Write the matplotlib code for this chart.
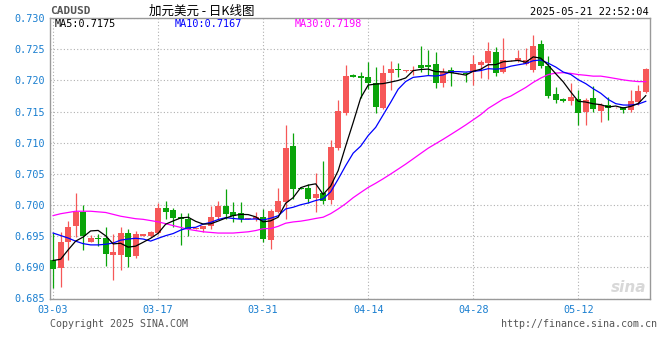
import numpy as np
import pandas as pd
import matplotlib
matplotlib.use("Agg")
import matplotlib.pyplot as plt

# ---------------- data (daily, calendar days 2025-03-03 .. 2025-05-21) ----------------
opens = [0.6912, 0.6899, 0.6941, 0.6967, 0.6988, 0.6940, 0.6947, 0.6947, 0.6919, 0.6920,
         0.6955, 0.6918, 0.6951, 0.6951, 0.6955, 0.6995, 0.6992, 0.6980, 0.6978, 0.6962,
         0.6962, 0.6967, 0.6981, 0.6999, 0.6989, 0.6987, 0.6977, 0.6977, 0.6981, 0.6944,
         0.6989, 0.7005, 0.7095, 0.7028, 0.7027, 0.7011, 0.7019, 0.7008, 0.7091, 0.7148,
         0.7209, 0.7207, 0.7206, 0.7196, 0.7155, 0.7211, 0.7218, 0.7215, 0.7215, 0.7225,
         0.7224, 0.7227, 0.7196, 0.7217, 0.7211, 0.7212, 0.7214, 0.7225, 0.7228, 0.7246,
         0.7214, 0.7232, 0.7231, 0.7227, 0.7216, 0.7259, 0.7223, 0.7178, 0.7170, 0.7167,
         0.7170, 0.7150, 0.7172, 0.7151, 0.7160, 0.7155, 0.7157, 0.7152, 0.7166, 0.7182]
highs = [0.6955, 0.6956, 0.6975, 0.7019, 0.7000, 0.6952, 0.6954, 0.6964, 0.6954, 0.6964,
         0.6962, 0.6959, 0.6954, 0.6959, 0.7004, 0.7007, 0.6995, 0.6987, 0.6987, 0.6963,
         0.6967, 0.6999, 0.7007, 0.7026, 0.7005, 0.7005, 0.6979, 0.6989, 0.6993, 0.6993,
         0.7028, 0.7129, 0.7116, 0.7029, 0.7033, 0.7051, 0.7071, 0.7104, 0.7168, 0.7225,
         0.7210, 0.7214, 0.7230, 0.7221, 0.7225, 0.7231, 0.7228, 0.7217, 0.7223, 0.7255,
         0.7249, 0.7246, 0.7220, 0.7221, 0.7212, 0.7214, 0.7241, 0.7233, 0.7262, 0.7254,
         0.7268, 0.7233, 0.7249, 0.7252, 0.7273, 0.7264, 0.7239, 0.7190, 0.7171, 0.7195,
         0.7184, 0.7171, 0.7191, 0.7164, 0.7174, 0.7157, 0.7158, 0.7184, 0.7192, 0.7220]
lows = [0.6867, 0.6868, 0.6911, 0.6948, 0.6928, 0.6940, 0.6934, 0.6902, 0.6879, 0.6895,
        0.6900, 0.6915, 0.6951, 0.6948, 0.6953, 0.6978, 0.6964, 0.6936, 0.6950, 0.6961,
        0.6957, 0.6961, 0.6977, 0.6978, 0.6972, 0.6972, 0.6977, 0.6974, 0.6940, 0.6930,
        0.6987, 0.6978, 0.7009, 0.7025, 0.7004, 0.6989, 0.7001, 0.7001, 0.7089, 0.7144,
        0.7205, 0.7171, 0.7186, 0.7148, 0.7154, 0.7185, 0.7206, 0.7214, 0.7209, 0.7214,
        0.7209, 0.7187, 0.7190, 0.7191, 0.7210, 0.7198, 0.7192, 0.7203, 0.7202, 0.7207,
        0.7211, 0.7231, 0.7230, 0.7225, 0.7214, 0.7219, 0.7171, 0.7164, 0.7166, 0.7160,
        0.7128, 0.7128, 0.7150, 0.7133, 0.7137, 0.7155, 0.7147, 0.7150, 0.7160, 0.7180]
closes = [0.6898, 0.6941, 0.6965, 0.6989, 0.6950, 0.6947, 0.6945, 0.6922, 0.6924, 0.6955,
          0.6916, 0.6953, 0.6953, 0.6956, 0.6995, 0.6989, 0.6979, 0.6977, 0.6962, 0.6962,
          0.6967, 0.6981, 0.6999, 0.6986, 0.6982, 0.6977, 0.6979, 0.6981, 0.6946, 0.6990,
          0.7006, 0.7091, 0.7026, 0.7026, 0.7010, 0.7017, 0.7006, 0.7093, 0.7150, 0.7207,
          0.7206, 0.7203, 0.7196, 0.7158, 0.7211, 0.7218, 0.7216, 0.7216, 0.7217, 0.7220,
          0.7221, 0.7196, 0.7214, 0.7211, 0.7211, 0.7210, 0.7227, 0.7230, 0.7247, 0.7212,
          0.7233, 0.7232, 0.7236, 0.7232, 0.7255, 0.7223, 0.7175, 0.7168, 0.7167, 0.7174,
          0.7148, 0.7169, 0.7154, 0.7160, 0.7155, 0.7156, 0.7153, 0.7167, 0.7183, 0.7218]

# moving-average values for the days before each window is full
ma5_head = [0.6911, 0.6913, 0.6928, 0.6942]
ma10_head = [0.6955, 0.6951, 0.6947, 0.6942, 0.6938, 0.6936, 0.6936, 0.6937, 0.6939]
ma30_head = [0.6983, 0.6986, 0.6988, 0.6990, 0.6990, 0.6990, 0.6989, 0.6988, 0.6985, 0.6982,
             0.6980, 0.6978, 0.6977, 0.6975, 0.6973, 0.6970, 0.6967, 0.6964, 0.6961, 0.6959,
             0.6957, 0.6956, 0.6955, 0.6955, 0.6955, 0.6956, 0.6957, 0.6959, 0.6962]

tick_labels = ["03-03", "03-17", "03-31", "04-14", "04-28", "05-12"]
tick_index = [0, 14, 28, 42, 56, 70]
y_ticks = [0.685, 0.690, 0.695, 0.700, 0.705, 0.710, 0.715, 0.720, 0.725, 0.730]

# ---------------- derived ----------------
c = pd.Series(closes)
def ma(n, head):
    m = c.rolling(n).mean().to_numpy()
    m[:len(head)] = head
    return m
ma5 = ma(5, ma5_head)
ma10 = ma(10, ma10_head)
ma30 = ma(30, ma30_head)

o = np.array(opens); h = np.array(highs); l = np.array(lows); cl = np.array(closes)
x = np.arange(len(o))

RED = "#f65858"
GREEN = "#0aa40a"
BLUE_TXT = "#1a7fd0"
MONO = "DejaVu Sans Mono"

fig = plt.figure(figsize=(6.6, 3.6), dpi=100)
fig.patch.set_facecolor("white")
ax = fig.add_axes([50.5 / 660, 1 - 298.5 / 360, 599 / 660, 280.5 / 360])

up = cl >= o
colors = np.where(up, RED, GREEN)
bottoms = np.minimum(o, cl)
heights = np.maximum(np.abs(cl - o), 0.00012)
ax.vlines(x, l, h, colors=colors, linewidth=0.9, zorder=3)
ax.bar(x, heights, bottom=bottoms, width=0.78, color=colors, linewidth=0, zorder=4)

ax.plot(x, ma30, color="#ff00ff", linewidth=0.9, zorder=5)
ax.plot(x, ma10, color="#0000ff", linewidth=0.9, zorder=5)
ax.plot(x, ma5, color="black", linewidth=0.9, zorder=5)

ax.set_xlim(-0.35, 79.5)
ax.set_ylim(0.685, 0.730)

ax.set_yticks(y_ticks)
ax.set_yticklabels([f"{v:.3f}" for v in y_ticks])
ax.set_xticks(tick_index)
ax.set_xticklabels(tick_labels)
ax.tick_params(axis="both", length=0, colors=BLUE_TXT, labelsize=7.3)
ax.tick_params(axis="x", pad=5)
ax.tick_params(axis="y", pad=4)
for lab in ax.get_xticklabels() + ax.get_yticklabels():
    lab.set_fontfamily(MONO)

ax.grid(True, color="#b0b0b0", linestyle=(0, (1, 2)), linewidth=0.8, zorder=0)
ax.set_axisbelow(True)
for s in ax.spines.values():
    s.set_color("#999999")
    s.set_linewidth(1.0)

def fig_text(px, py, s, **kw):
    fig.text(px / 660, 1 - py / 360, s, **kw)

# legend row
fig_text(54.5, 24, "MA5:0.7175", fontsize=7.3, family=MONO, color="black", va="center")
fig_text(174.5, 24, "MA10:0.7167", fontsize=7.3, family=MONO, color="#0000ff", va="center")
fig_text(295, 24, "MA30:0.7198", fontsize=7.3, family=MONO, color="#ff00ff", va="center")

# header
fig_text(50.5, 11, "CADUSD", fontsize=8, family=MONO, color="#555555", weight="bold", va="center")
fig_text(202, 11, "加元美元 - 日K线图", fontsize=9, family=["Noto Sans CJK SC", "DejaVu Sans"],
         color="black", va="center", ha="center")
fig_text(649, 12, "2025-05-21 22:52:04", fontsize=7.5, family=MONO, color="black", va="center", ha="right")

# footer
fig_text(50, 324, "Copyright 2025 SINA.COM", fontsize=7.2, family=MONO, color="#555555", va="center")
fig_text(657, 324, "http://finance.sina.com.cn", fontsize=7.2, family=MONO, color="#555555",
         va="center", ha="right")

# watermark
fig_text(646, 288, "sina", fontsize=11, color="#d8d8d8", style="italic", weight="bold",
         va="center", ha="right", family="DejaVu Sans")

fig.savefig("out.png", dpi=100, facecolor="white")
